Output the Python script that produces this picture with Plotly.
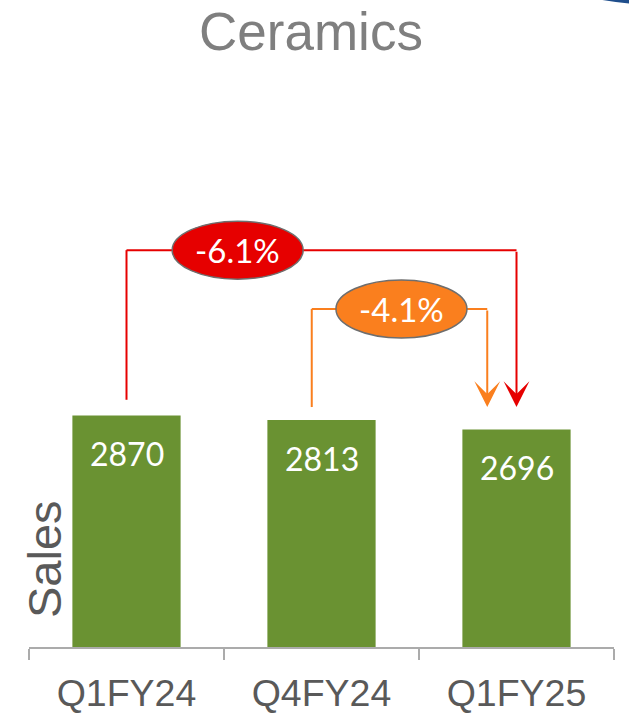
import plotly.graph_objects as go

# ---- data ----
categories = ["Q1FY24", "Q4FY24", "Q1FY25"]
sales = [2870, 2813, 2696]
title_text = "Ceramics"
y_title = "Sales"

# comparison brackets: from-index, to-index, label, colour
bracket_labels = ["-6.1%", "-4.1%"]
bracket_from = [0.0, 0.95]
bracket_to = [2.0, 1.85]
bracket_start = [3065, 2975]
bracket_level = [4920, 4190]
bracket_tip = [2975, 2975]
bracket_label_x = [0.57, 1.41]
bracket_colors = ["#E60000", "#FA7F1E"]

BAR_COLOR = "#6A9232"
GRAY_TEXT = "#595959"
AXIS_GRAY = "#ABABAB"

W, H = 629, 714
ML, MR, MT, MB = 29, 15, 80, 67
PW = W - ML - MR
PH = H - MT - MB


def px_x(X):  # window pixel -> paper x
    return (X - ML) / PW


def px_y(Y):  # window pixel -> paper y
    return (MT + PH - Y) / PH


fig = go.Figure()
fig.add_trace(go.Bar(
    x=categories, y=sales, marker=dict(color=BAR_COLOR, line=dict(width=0)),
    width=0.555, hoverinfo="skip", showlegend=False,
))

shapes = []
annotations = []

# value labels inside bars
for c, v in zip(categories, sales):
    annotations.append(dict(
        x=c, y=v, xref="x", yref="y", text=str(v), showarrow=False,
        yshift=-38, font=dict(family="Lato", size=32, color="white"),
        xanchor="center", yanchor="middle",
    ))

for lab, x0, x1, ys, yl, yt, lx, col in zip(bracket_labels, bracket_from, bracket_to,
                                            bracket_start, bracket_level, bracket_tip,
                                            bracket_label_x, bracket_colors):
    shapes.append(dict(type="line", xref="x", yref="y", x0=x0, x1=x0, y0=ys, y1=yl,
                       line=dict(color=col, width=2)))
    shapes.append(dict(type="line", xref="x", yref="y", x0=x0, x1=x1, y0=yl, y1=yl,
                       line=dict(color=col, width=2)))
    annotations.append(dict(
        x=x1, y=yt, ax=x1, ay=yl, xref="x", yref="y", axref="x", ayref="y",
        text="", showarrow=True, arrowhead=3, arrowwidth=2, arrowsize=2.15,
        arrowcolor=col, standoff=0,
    ))

for lab, lx, yl, col in zip(bracket_labels, bracket_label_x, bracket_level, bracket_colors):
    shapes.append(dict(type="circle", xref="x", yref="y", xsizemode="pixel",
                       ysizemode="pixel", xanchor=lx, yanchor=yl,
                       x0=-65.5, x1=65.5, y0=-29, y1=29,
                       fillcolor=col, line=dict(color="#6E6E6E", width=1.5)))
    annotations.append(dict(
        x=lx, y=yl, xref="x", yref="y", text=lab, showarrow=False,
        font=dict(family="Lato", size=33, color="white"),
        xanchor="center", yanchor="middle",
    ))

# y axis title drawn inside plot area
annotations.append(dict(
    x=px_x(44), y=px_y(559), xref="paper", yref="paper", text=y_title, textangle=-90,
    showarrow=False, font=dict(family="Liberation Sans", size=47, color=GRAY_TEXT),
    xanchor="center", yanchor="middle",
))

# sliver of a logo in the top-right corner
shapes.append(dict(type="circle", xref="paper", yref="paper", layer="above",
                   x0=px_x(720 - 772), x1=px_x(720 + 772),
                   y0=px_y(-763 + 772), y1=px_y(-763 - 772),
                   fillcolor="#1F4E8C", line=dict(width=0)))

fig.update_layout(
    width=W, height=H,
    margin=dict(l=ML, r=MR, t=MT, b=MB, autoexpand=False),
    paper_bgcolor="white", plot_bgcolor="white",
    title=dict(text=title_text, x=311 / W, xref="container", xanchor="center",
               y=1 - 31 / H, yref="container", yanchor="middle",
               font=dict(family="Liberation Sans", size=53, color="#7F7F7F")),
    bargap=0.445,
    xaxis=dict(type="category", showgrid=False, zeroline=False, automargin=False,
               showline=True, linecolor=AXIS_GRAY, linewidth=2,
               ticks="outside", tickson="boundaries", ticklen=11,
               tickcolor=AXIS_GRAY, tickwidth=2, ticklabelstandoff=12,
               tickfont=dict(family="Liberation Sans", size=37.5, color=GRAY_TEXT),
               range=[-0.5, 2.5], fixedrange=True),
    yaxis=dict(visible=False, range=[0, PH / 0.08066], fixedrange=True, automargin=False),
    shapes=shapes, annotations=annotations,
    showlegend=False,
)

fig.write_html("out.html", config={"displayModeBar": False},
               post_script="document.body.style.margin='0';")
